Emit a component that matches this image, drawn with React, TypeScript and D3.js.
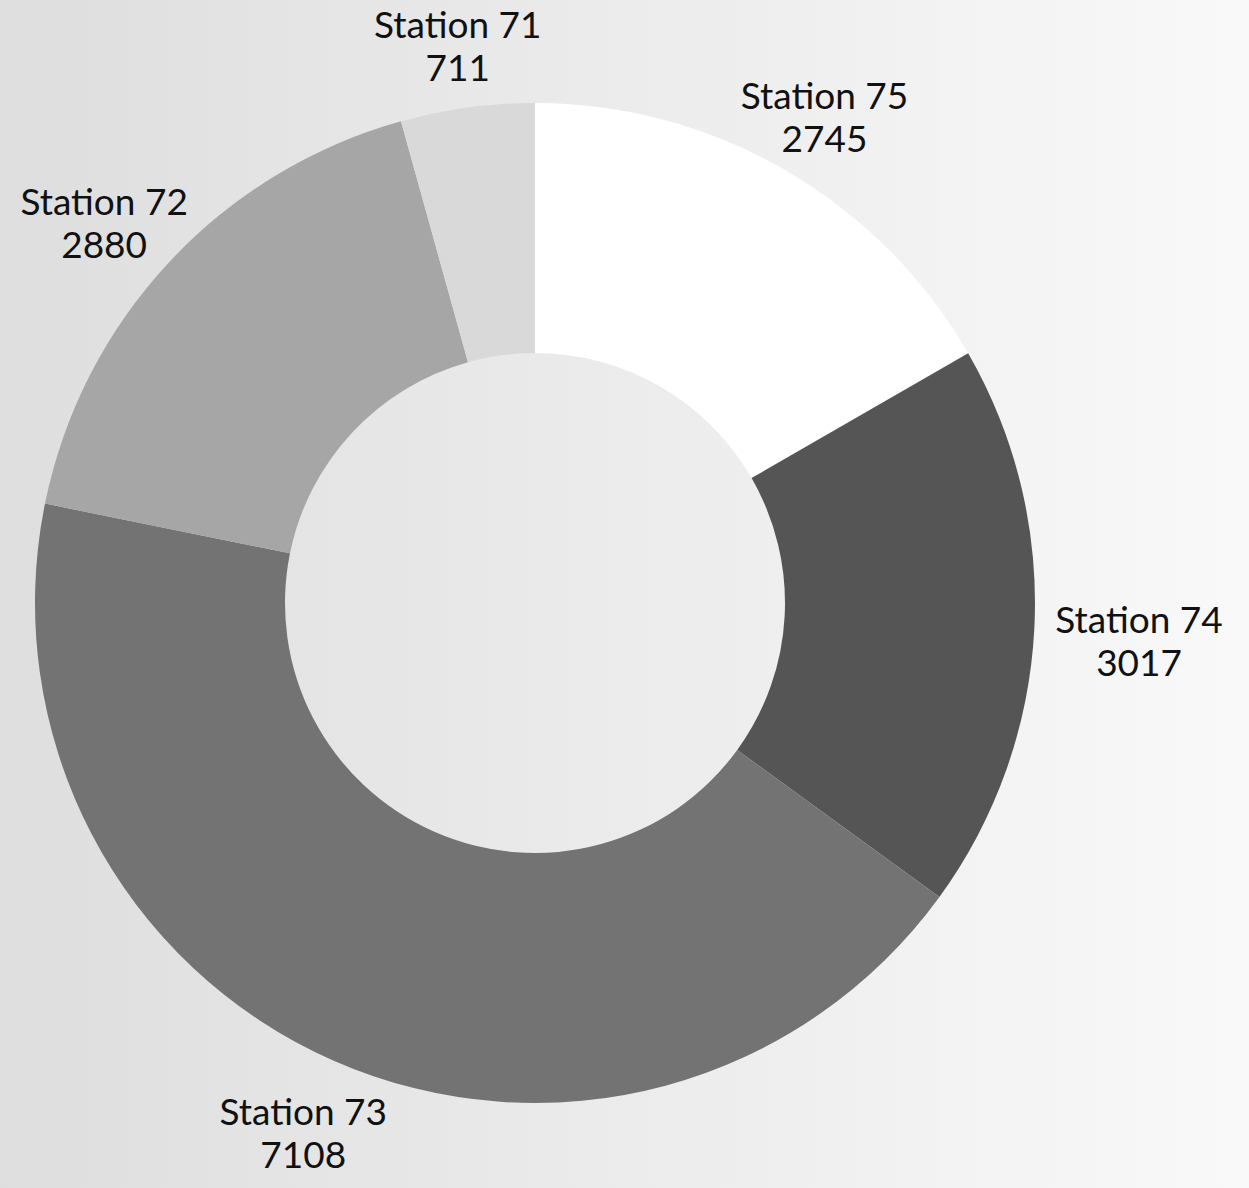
import React from 'react';
import * as d3 from 'd3';

const stations = ['Station 75', 'Station 74', 'Station 73', 'Station 72', 'Station 71'];
const counts = [2745, 3017, 7108, 2880, 711];
const shades = ['#ffffff', '#555555', '#737373', '#a6a6a6', '#d9d9d9'];

const W = 1249;
const H = 1188;

export default function App() {
  const cx = 535;
  const cy = 603;
  const outer = 500;
  const inner = 250;
  const labelR = 570;

  const data = stations.map((name, i) => ({ name, value: counts[i], color: shades[i] }));
  const pie = d3.pie<any>().value(d => d.value).sort(null);
  const arcs = pie(data);
  const arc = d3.arc<any>().innerRadius(inner).outerRadius(outer);

  return (
    <div style={{ position: 'fixed', left: 0, top: 0, width: W, height: H }}>
      <svg width={W} height={H} style={{ display: 'block' }}>
        <defs>
          <linearGradient id="bg" x1="0" y1="0" x2="1" y2="0">
            <stop offset="0%" stopColor="#dedede" />
            <stop offset="100%" stopColor="#f9f9f9" />
          </linearGradient>
        </defs>
        <rect width={W} height={H} fill="url(#bg)" />
        <g transform={`translate(${cx},${cy})`}>
          {arcs.map(a => (
            <path key={a.data.name} d={arc(a) as string} fill={a.data.color} />
          ))}
          {arcs.map(a => {
            const mid = (a.startAngle + a.endAngle) / 2;
            const s = Math.sin(mid);
            const c = Math.cos(mid);
            // first baseline sits on the label circle, pushed sideways near 3/9 o'clock
            const x = s * labelR + s * s * s * 35;
            const y = -c * labelR;
            return (
              <text
                key={'l' + a.data.name}
                x={x}
                y={y}
                textAnchor="middle"
                fontFamily="Lato, 'Noto Sans', sans-serif"
                fontSize={37}
                fill="#111"
              >
                <tspan x={x} dy={0}>{a.data.name}</tspan>
                <tspan x={x} dy={43}>{a.data.value}</tspan>
              </text>
            );
          })}
        </g>
      </svg>
    </div>
  );
}
